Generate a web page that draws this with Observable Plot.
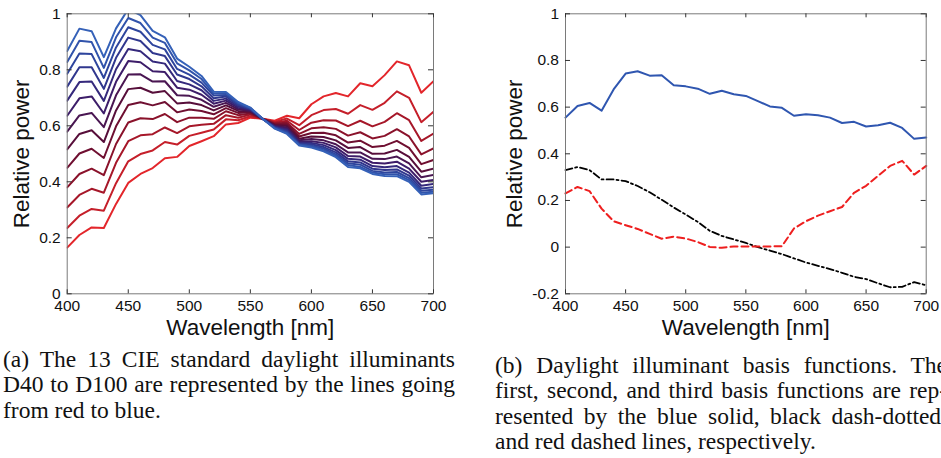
<!DOCTYPE html>
<html>
<head>
<meta charset="utf-8">
<script src="https://cdn.jsdelivr.net/npm/d3@7"></script>
<script src="https://cdn.jsdelivr.net/npm/@observablehq/plot@0.6"></script>
<style>
  html, body { margin: 0; padding: 0; background: #fff; width: 941px; height: 458px; overflow: hidden; position: relative; }
  #panelA, #panelB { position: absolute; top: 0; }
  #panelA { left: 0; width: 470px; }
  #panelB { left: 480px; width: 480px; }
  #panelA svg, #panelB svg { max-width: none; display: block; }
  .cap { position: absolute; width: 452px; font-family: "Liberation Serif", "Times New Roman", serif; font-size: 23.5px; line-height: 25.3px; color: #111; }
  .cap div { text-align: justify; text-align-last: justify; }
  .cap div.last { text-align: left; text-align-last: left; }
  #capA { left: 3px; top: 347px; }
  #capB { left: 495px; top: 353px; }
</style>
</head>
<body>
<div id="panelA"></div>
<div id="panelB"></div>
<div class="cap" id="capA">
  <div>(a) The 13 CIE standard daylight illuminants</div>
  <div>D40 to D100 are represented by the lines going</div>
  <div class="last">from red to blue.</div>
</div>
<div class="cap" id="capB">
  <div>(b) Daylight illuminant basis functions. The</div>
  <div>first, second, and third basis functions are rep-</div>
  <div>resented by the blue solid, black dash-dotted,</div>
  <div class="last">and red dashed lines, respectively.</div>
</div>
<script>
// Wavelength samples (nm)
const wavelengths = [400, 410, 420, 430, 440, 450, 460, 470, 480, 490, 500, 510, 520, 530, 540, 550,
                     560, 570, 580, 590, 600, 610, 620, 630, 640, 650, 660, 670, 680, 690, 700];

// Daylight illuminants, relative spectral power
const illuminants = ["D40", "D45", "D50", "D55", "D60", "D65", "D70", "D75", "D80", "D85", "D90", "D95", "D100"];
const d40  = [0.165, 0.210, 0.237, 0.235, 0.321, 0.396, 0.428, 0.449, 0.484, 0.489, 0.528, 0.545, 0.563, 0.605, 0.610, 0.629, 0.625, 0.618, 0.636, 0.627, 0.677, 0.705, 0.717, 0.705, 0.752, 0.741, 0.781, 0.830, 0.816, 0.718, 0.759];
const d45  = [0.235, 0.279, 0.303, 0.297, 0.395, 0.473, 0.499, 0.512, 0.542, 0.533, 0.564, 0.575, 0.587, 0.623, 0.620, 0.634, 0.625, 0.614, 0.626, 0.602, 0.638, 0.656, 0.660, 0.643, 0.674, 0.657, 0.682, 0.723, 0.700, 0.613, 0.650];
const d50  = [0.308, 0.353, 0.375, 0.361, 0.468, 0.545, 0.566, 0.570, 0.594, 0.574, 0.598, 0.604, 0.607, 0.638, 0.629, 0.640, 0.625, 0.611, 0.618, 0.585, 0.611, 0.620, 0.619, 0.599, 0.618, 0.598, 0.614, 0.645, 0.620, 0.546, 0.572];
const d55  = [0.380, 0.428, 0.447, 0.424, 0.535, 0.612, 0.627, 0.624, 0.642, 0.613, 0.629, 0.629, 0.625, 0.652, 0.638, 0.644, 0.625, 0.608, 0.611, 0.571, 0.591, 0.595, 0.589, 0.565, 0.577, 0.555, 0.564, 0.588, 0.562, 0.498, 0.519];
const d60  = [0.450, 0.501, 0.518, 0.485, 0.598, 0.674, 0.684, 0.673, 0.685, 0.648, 0.658, 0.653, 0.641, 0.663, 0.646, 0.648, 0.625, 0.605, 0.605, 0.562, 0.574, 0.575, 0.566, 0.540, 0.547, 0.524, 0.529, 0.546, 0.521, 0.463, 0.478];
const d65  = [0.516, 0.571, 0.584, 0.542, 0.655, 0.731, 0.736, 0.718, 0.724, 0.680, 0.683, 0.674, 0.655, 0.673, 0.653, 0.651, 0.625, 0.602, 0.599, 0.554, 0.562, 0.560, 0.548, 0.521, 0.524, 0.500, 0.501, 0.514, 0.489, 0.436, 0.447];
const d70  = [0.579, 0.637, 0.646, 0.595, 0.709, 0.783, 0.784, 0.758, 0.759, 0.709, 0.707, 0.693, 0.668, 0.682, 0.659, 0.653, 0.625, 0.600, 0.594, 0.548, 0.553, 0.548, 0.534, 0.505, 0.505, 0.482, 0.481, 0.490, 0.466, 0.416, 0.425];
const d75  = [0.636, 0.698, 0.705, 0.644, 0.757, 0.831, 0.827, 0.795, 0.792, 0.736, 0.729, 0.711, 0.679, 0.690, 0.664, 0.656, 0.625, 0.598, 0.589, 0.544, 0.545, 0.539, 0.523, 0.492, 0.490, 0.468, 0.465, 0.472, 0.447, 0.400, 0.407];
const d80  = [0.690, 0.756, 0.758, 0.689, 0.802, 0.874, 0.866, 0.830, 0.822, 0.760, 0.748, 0.727, 0.689, 0.697, 0.669, 0.658, 0.625, 0.596, 0.585, 0.540, 0.539, 0.531, 0.513, 0.482, 0.479, 0.456, 0.452, 0.456, 0.433, 0.386, 0.392];
const d85  = [0.740, 0.809, 0.809, 0.732, 0.843, 0.915, 0.903, 0.860, 0.849, 0.783, 0.767, 0.741, 0.698, 0.705, 0.674, 0.660, 0.625, 0.594, 0.581, 0.537, 0.534, 0.524, 0.505, 0.473, 0.469, 0.447, 0.442, 0.444, 0.422, 0.376, 0.381];
const d90  = [0.786, 0.858, 0.856, 0.771, 0.880, 0.952, 0.936, 0.889, 0.873, 0.803, 0.783, 0.754, 0.708, 0.710, 0.678, 0.662, 0.625, 0.593, 0.577, 0.534, 0.529, 0.519, 0.498, 0.466, 0.461, 0.439, 0.433, 0.435, 0.413, 0.368, 0.372];
const d95  = [0.828, 0.904, 0.899, 0.807, 0.916, 0.985, 0.967, 0.915, 0.896, 0.823, 0.798, 0.767, 0.715, 0.716, 0.682, 0.664, 0.625, 0.591, 0.574, 0.532, 0.526, 0.513, 0.493, 0.460, 0.453, 0.433, 0.427, 0.427, 0.406, 0.361, 0.365];
const d100 = [0.867, 0.947, 0.938, 0.845, 0.948, 1.017, 0.995, 0.939, 0.916, 0.840, 0.811, 0.778, 0.722, 0.721, 0.685, 0.665, 0.625, 0.590, 0.571, 0.530, 0.522, 0.509, 0.488, 0.453, 0.448, 0.428, 0.421, 0.420, 0.400, 0.355, 0.359];

// Daylight basis functions
const basisFirst  = [0.555, 0.605, 0.618, 0.585, 0.676, 0.744, 0.754, 0.735, 0.737, 0.694, 0.689, 0.679, 0.657, 0.670, 0.655, 0.648,
                     0.626, 0.603, 0.597, 0.563, 0.569, 0.565, 0.555, 0.532, 0.537, 0.517, 0.522, 0.533, 0.511, 0.464, 0.470];
const basisSecond = [0.330, 0.343, 0.330, 0.290, 0.290, 0.283, 0.262, 0.235, 0.203, 0.170, 0.140, 0.108, 0.070, 0.048, 0.033, 0.018,
                     0.000, -0.015, -0.030, -0.048, -0.066, -0.080, -0.094, -0.110, -0.127, -0.137, -0.155, -0.172, -0.170, -0.150, -0.163];
const basisThird  = [0.230, 0.258, 0.240, 0.165, 0.111, 0.094, 0.078, 0.057, 0.036, 0.045, 0.037, 0.022, 0.001, -0.003, 0.003, 0.003,
                     0.003, 0.003, 0.004, 0.080, 0.111, 0.135, 0.154, 0.172, 0.233, 0.263, 0.306, 0.348, 0.370, 0.311, 0.348];

// Axis ticks
const xTicks = [400, 450, 500, 550, 600, 650, 700];
const yTicksA = [0, 0.2, 0.4, 0.6, 0.8, 1];
const yTicksB = [-0.2, 0, 0.2, 0.4, 0.6, 0.8, 1];

const powers = [d40, d45, d50, d55, d60, d65, d70, d75, d80, d85, d90, d95, d100];

// red -> dark purple -> blue ramp across the illuminant series
const ramp = d3.piecewise(d3.interpolateRgb, ["#e3262b", "#9a1428", "#5a0d35", "#3a1e6e", "#2c3f98", "#3561b8"]);
const lineColor = new Map(illuminants.map((name, i) => [name, ramp(i / (illuminants.length - 1))]));

const spectra = illuminants.flatMap((name, i) =>
  wavelengths.map((wl, j) => ({name, wl, power: powers[i][j]})));

const basisRows = wavelengths.map((wl, j) => ({wl, first: basisFirst[j], second: basisSecond[j], third: basisThird[j]}));

const font = "'Liberation Sans', Arial, Helvetica, sans-serif";

function panel({width, height, marginLeft, marginRight, marginTop, marginBottom, yDomain, yTicks, ylabelOffset, marks}) {
  const fw = width - marginLeft - marginRight;
  const fh = height - marginTop - marginBottom;
  const tickColor = "#333";
  return Plot.plot({
    width, height, marginLeft, marginRight, marginTop, marginBottom,
    style: {fontFamily: font, fontSize: "15.5px", color: "#111", background: "transparent"},
    x: {domain: [400, 700]},
    y: {domain: yDomain},
    color: {type: "identity"},
    marks: [
      ...marks,
      Plot.frame({stroke: "#7a7a7a", strokeWidth: 1}),
      // inward ticks on all four sides
      Plot.tickX(xTicks, {x: d => d, insetTop: fh - 4, stroke: tickColor}),
      Plot.tickX(xTicks, {x: d => d, insetBottom: fh - 4, stroke: tickColor}),
      Plot.tickY(yTicks, {y: d => d, insetRight: fw - 5, stroke: tickColor}),
      Plot.tickY(yTicks, {y: d => d, insetLeft: fw - 5, stroke: tickColor}),
      Plot.axisX({ticks: xTicks, tickSize: 0, tickPadding: 6, label: null, tickFormat: d => String(d), fontSize: 15.5}),
      Plot.axisY({ticks: yTicks, tickSize: 0, tickPadding: 6.5, label: null, tickFormat: d => String(d), fontSize: 15.5}),
      Plot.text(["Wavelength [nm]"], {frameAnchor: "bottom", dy: 34, fontSize: 22.5, fill: "#111", lineAnchor: "middle"}),
      Plot.text(["Relative power"], {frameAnchor: "left", dx: -ylabelOffset, rotate: -90, fontSize: 22.5, fill: "#111", textAnchor: "middle", lineAnchor: "middle"})
    ]
  });
}

const chartA = panel({
  width: 470, height: 340, marginLeft: 66.7, marginRight: 37, marginTop: 13.3, marginBottom: 46.7,
  yDomain: [0, 1], yTicks: yTicksA, ylabelOffset: 45,
  marks: [
    Plot.line(spectra, {x: "wl", y: "power", z: "name", stroke: d => lineColor.get(d.name), strokeWidth: 2, clip: true})
  ]
});

const chartB = panel({
  width: 480, height: 340, marginLeft: 85, marginRight: 34.3, marginTop: 13.3, marginBottom: 46.7,
  yDomain: [-0.2, 1], yTicks: yTicksB, ylabelOffset: 51,
  marks: [
    Plot.line(basisRows, {x: "wl", y: "first", stroke: "#2f56b0", strokeWidth: 2}),
    Plot.line(basisRows, {x: "wl", y: "second", stroke: "#000", strokeWidth: 1.8, strokeDasharray: "7,3,2,3"}),
    Plot.line(basisRows, {x: "wl", y: "third", stroke: "#ee1f1f", strokeWidth: 2, strokeDasharray: "7,4"})
  ]
});

document.getElementById("panelA").append(chartA);
document.getElementById("panelB").append(chartB);
</script>
</body>
</html>
